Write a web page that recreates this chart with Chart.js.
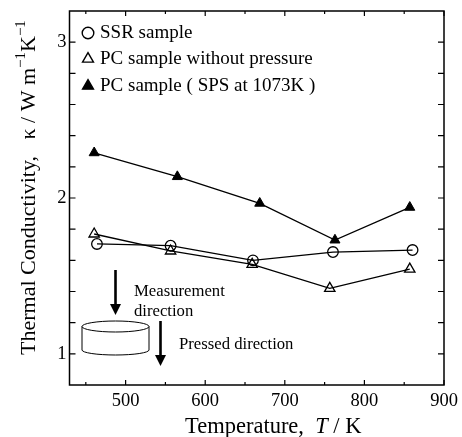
<!DOCTYPE html>
<html>
<head>
<meta charset="utf-8">
<style>html,body{margin:0;padding:0;background:#fff}canvas{display:block}</style>
<script src="https://cdn.jsdelivr.net/npm/chart.js@4"></script>
</head>
<body>
<canvas id="chart" width="462" height="437"></canvas>
<script>
var ssrT = [464, 556.5, 660, 760.5, 860.5];
var ssrK = [1.705, 1.694, 1.6, 1.653, 1.666];
var pcT = [460.5, 556.5, 659, 756.5, 857];
var pcK = [1.769, 1.66, 1.574, 1.42, 1.544];
var spsT = [460.5, 565, 668.5, 763, 857];
var spsK = [2.29, 2.137, 1.966, 1.73, 1.94];
var xTicks = [450, 500, 550, 600, 650, 700, 750, 800, 850, 900];
var xLabels = [500, 600, 700, 800, 900];
var yTicks = [1, 1.2, 1.4, 1.6, 1.8, 2, 2.2, 2.4, 2.6, 2.8, 3];
var yLabels = [1, 2, 3];
var seriesNames = ["SSR sample", "PC sample without pressure", "PC sample ( SPS at 1073K )"];

var serif = '"Liberation Serif", "Times New Roman", serif';

function toPoints(xs, ys) {
    return xs.map(function (x, i) { return { x: x, y: ys[i] }; });
}

function setTicks(values) {
    return function (scale) {
        scale.ticks = values.map(function (v) { return { value: v }; });
    };
}

// writes runs of text one after the other, each with its own font and raise
function drawRuns(ctx, x, y, runs) {
    runs.forEach(function (r) {
        ctx.font = r.font;
        ctx.fillText(r.text, x, y - (r.up || 0));
        x += ctx.measureText(r.text).width;
    });
}

function drawArrow(ctx, x, y0, y1, tip) {
    ctx.lineWidth = 2.6;
    ctx.beginPath();
    ctx.moveTo(x, y0);
    ctx.lineTo(x, y1);
    ctx.stroke();
    ctx.beginPath();
    ctx.moveTo(x - 5.5, y1);
    ctx.lineTo(x + 5.5, y1);
    ctx.lineTo(x, tip);
    ctx.closePath();
    ctx.fill();
}

var framePlugin = {
    id: "frame",
    afterDraw: function (chart) {
        var ctx = chart.ctx, a = chart.chartArea;
        var sx = chart.scales.x, sy = chart.scales.y;
        ctx.save();
        ctx.strokeStyle = "#000";
        ctx.fillStyle = "#000";

        // frame and inward ticks
        ctx.lineWidth = 1.5;
        ctx.strokeRect(a.left, a.top, a.right - a.left, a.bottom - a.top);
        ctx.lineWidth = 1.2;
        ctx.beginPath();
        xTicks.forEach(function (v) {
            var px = sx.getPixelForValue(v);
            var len = xLabels.indexOf(v) >= 0 ? 5 : 3;
            ctx.moveTo(px, a.bottom);
            ctx.lineTo(px, a.bottom - len);
            ctx.moveTo(px, a.top);
            ctx.lineTo(px, a.top + len);
        });
        yTicks.forEach(function (v) {
            var py = sy.getPixelForValue(v);
            ctx.moveTo(a.left, py);
            ctx.lineTo(a.left + 6, py);
            ctx.moveTo(a.right, py);
            ctx.lineTo(a.right - 6, py);
        });
        ctx.stroke();

        // legend
        ctx.textAlign = "left";
        ctx.textBaseline = "alphabetic";
        var rows = [38, 64, 91];
        seriesNames.forEach(function (name, i) {
            var ds = chart.data.datasets[i];
            ctx.lineWidth = 1.4;
            ctx.fillStyle = ds.backgroundColor;
            Chart.helpers.drawPoint(ctx, { pointStyle: ds.pointStyle, radius: i == 0 ? 5.8 : 6.3, borderWidth: 1.4 }, 88, rows[i] - 5);
            ctx.fillStyle = "#000";
            ctx.font = "19px " + serif;
            ctx.fillText(name, 100, rows[i]);
        });

        // axis titles
        drawRuns(ctx, 185, 433, [
            { text: "Temperature,  ", font: "22.5px " + serif },
            { text: "T", font: "italic 22.5px " + serif },
            { text: " / K", font: "22.5px " + serif }
        ]);
        ctx.save();
        ctx.translate(35, 355);
        ctx.rotate(-Math.PI / 2);
        drawRuns(ctx, 0, 0, [
            { text: "Thermal Conductivity,   \u03ba / W m", font: "22px " + serif },
            { text: "\u22121", font: "15px " + serif, up: 10 },
            { text: "K", font: "22px " + serif },
            { text: "\u22121", font: "15px " + serif, up: 10 }
        ]);
        ctx.restore();

        // sample sketch
        ctx.lineWidth = 1;
        ctx.beginPath();
        ctx.ellipse(115.5, 326.5, 33.5, 5.5, 0, 0, Math.PI * 2);
        ctx.moveTo(82, 326.5);
        ctx.lineTo(82, 350);
        ctx.ellipse(115.5, 350, 33.5, 5, 0, Math.PI, 0, true);
        ctx.lineTo(149, 326.5);
        ctx.stroke();
        drawArrow(ctx, 115.5, 270, 304, 315);
        drawArrow(ctx, 160.5, 321, 355, 366);
        ctx.font = "16.7px " + serif;
        ctx.fillText("Measurement", 134, 296);
        ctx.fillText("direction", 134, 316);
        ctx.fillText("Pressed direction", 179, 349);
        ctx.restore();
    }
};

new Chart(document.getElementById("chart"), {
    type: "scatter",
    data: {
        datasets: [
            {
                label: seriesNames[0],
                data: toPoints(ssrT, ssrK),
                showLine: true,
                borderColor: "#000",
                borderWidth: 1.3,
                backgroundColor: "rgba(0,0,0,0)",
                pointStyle: "circle",
                pointRadius: 5.3,
                pointBorderWidth: 1.3
            },
            {
                label: seriesNames[1],
                data: toPoints(pcT, pcK),
                showLine: true,
                borderColor: "#000",
                borderWidth: 1.3,
                backgroundColor: "rgba(0,0,0,0)",
                pointStyle: "triangle",
                pointRadius: 6,
                pointBorderWidth: 1.3
            },
            {
                label: seriesNames[2],
                data: toPoints(spsT, spsK),
                showLine: true,
                borderColor: "#000",
                borderWidth: 1.3,
                backgroundColor: "#000",
                pointStyle: "triangle",
                pointRadius: 5.8,
                pointBorderWidth: 1
            }
        ]
    },
    options: {
        responsive: false,
        animation: false,
        layout: { padding: { left: 0, right: 18, top: 11, bottom: 0 } },
        plugins: { legend: { display: false }, tooltip: { enabled: false } },
        scales: {
            x: {
                type: "linear",
                min: 429.5,
                max: 900,
                grid: { display: false, drawTicks: false },
                border: { display: false },
                afterBuildTicks: setTicks(xTicks),
                afterFit: function (scale) {
                    scale.height = 52;
                    scale.paddingLeft = 0;
                    scale.paddingRight = 0;
                },
                ticks: {
                    autoSkip: false,
                    maxRotation: 0,
                    padding: 5,
                    color: "#000",
                    font: { family: serif, size: 18.5 },
                    callback: function (v) { return xLabels.indexOf(v) >= 0 ? String(v) : ""; }
                }
            },
            y: {
                min: 0.8,
                max: 3.2,
                grid: { display: false, drawTicks: false },
                border: { display: false },
                afterBuildTicks: setTicks(yTicks),
                afterFit: function (scale) {
                    scale.width = 69.5;
                    scale.paddingTop = 0;
                    scale.paddingBottom = 0;
                },
                ticks: {
                    autoSkip: false,
                    padding: 3,
                    color: "#000",
                    font: { family: serif, size: 18.5 },
                    callback: function (v) { return yLabels.indexOf(v) >= 0 ? String(v) : ""; }
                }
            }
        }
    },
    plugins: [framePlugin]
});
</script>
</body>
</html>
